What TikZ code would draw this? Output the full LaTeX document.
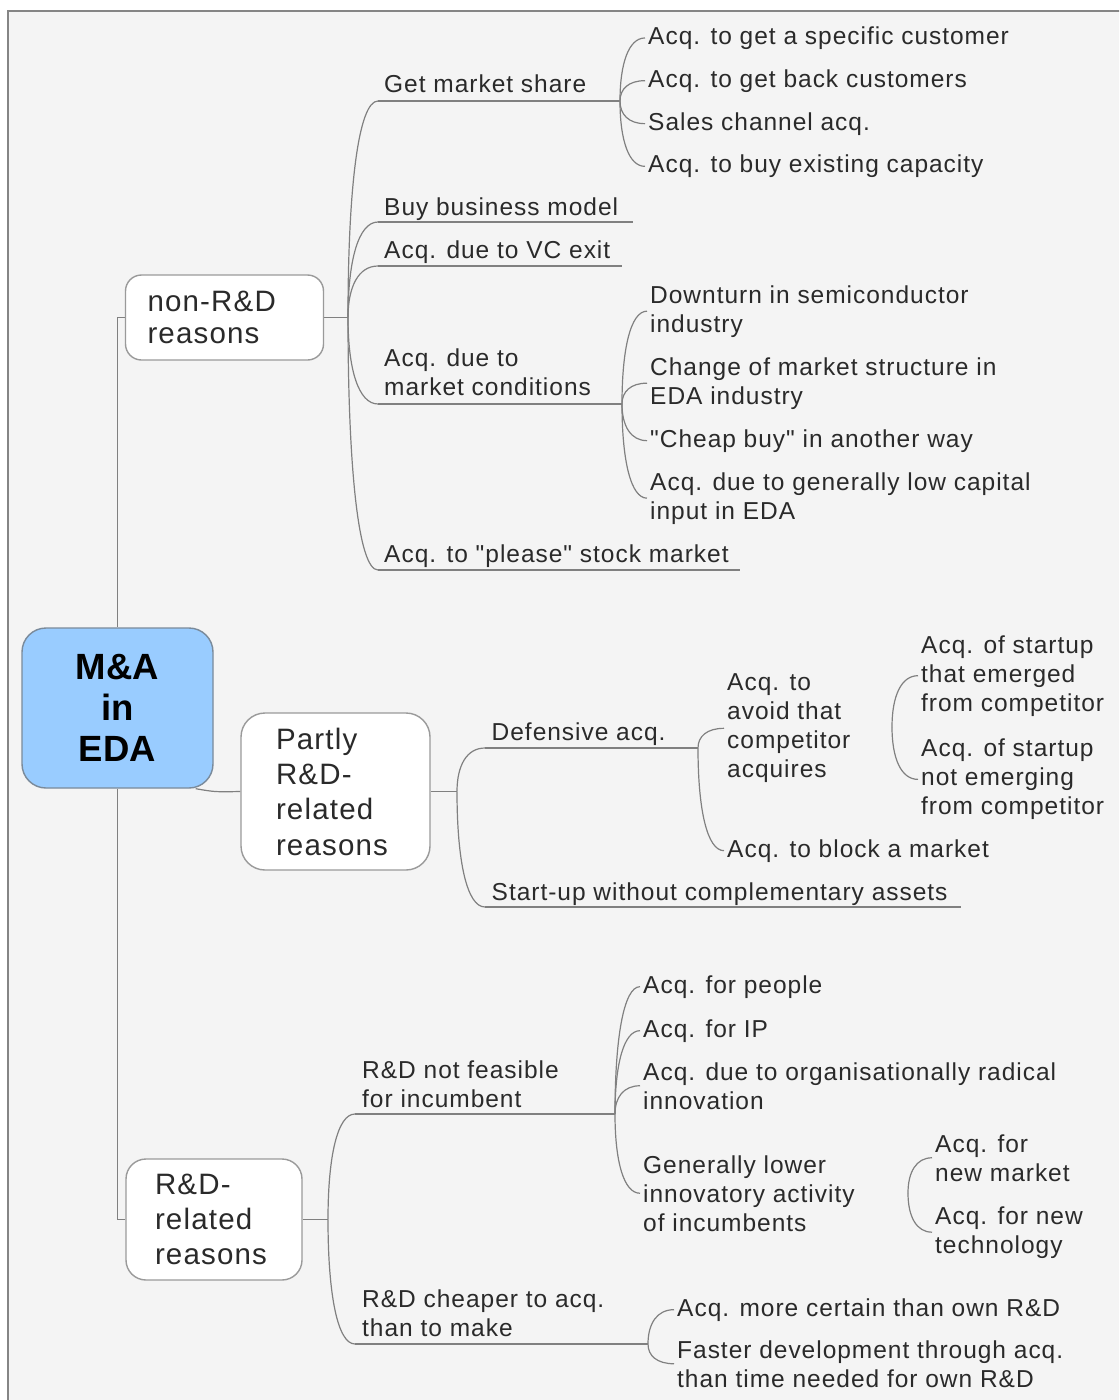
\documentclass[tikz,border=0pt]{standalone}
\usepackage{fontspec}
\setmainfont{Liberation Sans}
\newfontfamily\lsfont[LetterSpace=4]{Liberation Sans}
\newfontfamily\rootfont{Liberation Sans}
\usetikzlibrary{calc}
\pgfdeclarelayer{bg}
\pgfdeclarelayer{lines}
\pgfsetlayers{bg,lines,main}
\definecolor{bgc}{HTML}{F4F4F4}
\definecolor{framec}{HTML}{858585}
\definecolor{linec}{HTML}{808080}
\definecolor{boxc}{HTML}{9A9A9A}
\definecolor{rootborder}{HTML}{7A8A9A}
\definecolor{txt}{HTML}{2A2A2A}
\definecolor{rootfill}{HTML}{99CCFF}
\tikzset{
  fancurve/.style={to path={(\tikztostart) .. controls ($(\tikztostart)!0.6!(\tikztostart |- \tikztotarget)$) and ($(\tikztostart |- \tikztotarget)!0.35!(\tikztotarget)$) .. (\tikztotarget)}},
  conn/.style={draw=linec, line width=1.2pt},
  leaf/.style={anchor=base west, inner xsep=3pt, inner ysep=0pt, align=left, text=txt,
    font=\lsfont\fontsize{24.5pt}{29pt}\selectfont},
  catbox/.style={draw=boxc, line width=1.4pt, fill=white, rounded corners=16pt, align=left,
    text=txt, inner ysep=0pt},
  rootbox/.style={draw=rootborder, line width=1.4pt, fill=rootfill, rounded corners=24pt,
    align=center, text=black, minimum width=191pt, minimum height=160pt,
    font=\rootfont\bfseries\fontsize{36.5pt}{41pt}\selectfont}
}
\begin{document}
\begin{tikzpicture}[x=1pt,y=-1pt]
\useasboundingbox (0,0) rectangle (1119,1400);
\begin{pgfonlayer}{bg}
  \clip (0,0) rectangle (1119,1400);
  \fill[white] (0,0) rectangle (1119,1400);
  \draw[fill=bgc, draw=framec, line width=2pt] (8,11) rectangle (1140,1420);
\end{pgfonlayer}

% root and category boxes
\node[rootbox] (root) at (117.5,708) {M\&A\\in\\EDA};
\node[catbox, text width=154pt, inner xsep=22pt, minimum height=85pt,
  font=\lsfont\fontsize{29.5pt}{32.5pt}\selectfont] (nonrd) at (224.5,317.5) {non-R\&D\\reasons};
\node[catbox, rounded corners=24pt, text width=119pt, inner xsep=35pt, minimum height=157pt,
  font=\lsfont\fontsize{29.5pt}{35.3pt}\selectfont] (prd) at (335.5,791.5) {Partly\\R\&D-\\related\\reasons};
\node[catbox, rounded corners=20pt, text width=118pt, inner xsep=29pt, minimum height=121pt,
  font=\lsfont\fontsize{29.5pt}{35pt}\selectfont] (rd) at (214,1219.5) {R\&D-\\related\\reasons};

% junctions
\coordinate (J0) at (348,317.5);
\coordinate (J1) at (620,101);
\coordinate (J2) at (622,404);
\coordinate (J3) at (457,791.5);
\coordinate (J4) at (698,748);
\coordinate (J5) at (892,727);
\coordinate (J6) at (328,1219.5);
\coordinate (J7) at (615,1114);
\coordinate (J8) at (908,1193);
\coordinate (J9) at (648,1344);

% non-R&D branch (base = baseline of last line)
\node[leaf] (gms) at (381,92) {Get market share};
\node[leaf] (bbm) at (381,215) {Buy business model};
\node[leaf] (vc) at (381,258) {Acq. due to VC exit};
\node[leaf] (mc) at (381,395) {Acq. due to\\market conditions};
\node[leaf] (psm) at (381,562) {Acq. to "please" stock market};
\coordinate (gmsU) at (378,101);
\coordinate (bbmU) at (378,222);
\coordinate (bbmE) at (633,222);
\coordinate (vcU) at (378,266);
\coordinate (vcE) at (622,266);
\coordinate (mcU) at (378,404);
\coordinate (psmU) at (378,570);
\coordinate (psmE) at (740,570);

\node[leaf] (c11) at (645,44.3) {Acq. to get a specific customer};
\node[leaf] (c12) at (645,87) {Acq. to get back customers};
\node[leaf] (c13) at (645,130) {Sales channel acq.};
\node[leaf] (c14) at (645,172.7) {Acq. to buy existing capacity};

\node[leaf] (c21) at (647,332) {Downturn in semiconductor\\industry};
\node[leaf] (c22) at (647,404) {Change of market structure in\\EDA industry};
\node[leaf] (c23) at (647,447) {"Cheap buy" in another way};
\node[leaf] (c24) at (647,519) {Acq. due to generally low capital\\input in EDA};

% Partly R&D branch
\node[leaf] (def) at (488.5,740) {Defensive acq.};
\node[leaf] (sup) at (488.5,900) {Start-up without complementary assets};
\coordinate (defU) at (485,748);
\coordinate (supU) at (485,907);
\coordinate (supE) at (961,907);
\node[leaf] (avoid) at (724,777.7) {Acq. to\\avoid that\\competitor\\acquires};
\node[leaf] (block) at (724,857) {Acq. to block a market};
\node[leaf] (s1) at (918,711) {Acq. of startup\\that emerged\\from competitor};
\node[leaf] (s2) at (918,814.7) {Acq. of startup\\not emerging\\from competitor};

% R&D branch
\node[leaf] (nf) at (359,1107) {R\&D not feasible\\for incumbent};
\node[leaf] (ch) at (359,1336) {R\&D cheaper to acq.\\than to make};
\coordinate (nfU) at (355,1114);
\coordinate (chU) at (355,1344);
\node[leaf] (p1) at (640,993) {Acq. for people};
\node[leaf] (p2) at (640,1037) {Acq. for IP};
\node[leaf] (p3) at (640,1109) {Acq. due to organisationally radical\\innovation};
\node[leaf] (p4) at (640,1231) {Generally lower\\innovatory activity\\of incumbents};
\node[leaf] (q1) at (932,1181) {Acq. for\\new market};
\node[leaf] (q2) at (932,1253) {Acq. for new\\technology};
\node[leaf] (r1) at (674,1316) {Acq. more certain than own R\&D};
\node[leaf] (r2) at (674,1387) {Faster development through acq.\\than time needed for own R\&D};

\coordinate (rootSE) at ($(root.south east)+(-18,0)$);

\begin{pgfonlayer}{lines}
  \draw[conn] (nonrd.west) -| (root.north);
  \draw[conn] (rd.west) -| (root.south);
  \draw[conn] (rootSE) .. controls (215,792) .. (prd.west);
  % non-R&D
  \draw[conn] (nonrd.east) -- (J0);
  \foreach \t in {gmsU,bbmU,vcU,mcU,psmU} \draw[conn] (J0) to[fancurve] (\t);
  \draw[conn] (gmsU) -- (J1);
  \draw[conn] (bbmU) -- (bbmE);
  \draw[conn] (vcU) -- (vcE);
  \draw[conn] (mcU) -- (J2);
  \draw[conn] (psmU) -- (psmE);
  \foreach \t in {c11,c12,c13,c14} \draw[conn] (J1) to[fancurve] (\t.west);
  \foreach \t in {c21,c22,c23,c24} \draw[conn] (J2) to[fancurve] (\t.west);
  % Partly
  \draw[conn] (prd.east) -- (J3);
  \foreach \t in {defU,supU} \draw[conn] (J3) to[fancurve] (\t);
  \draw[conn] (defU) -- (J4);
  \draw[conn] (supU) -- (supE);
  \foreach \t in {avoid,block} \draw[conn] (J4) to[fancurve] (\t.west);
  \foreach \t in {s1,s2} \draw[conn] (J5) to[fancurve] (\t.west);
  % R&D
  \draw[conn] (rd.east) -- (J6);
  \foreach \t in {nfU,chU} \draw[conn] (J6) to[fancurve] (\t);
  \draw[conn] (nfU) -- (J7);
  \draw[conn] (chU) -- (J9);
  \foreach \t in {p1,p2,p3,p4} \draw[conn] (J7) to[fancurve] (\t.west);
  \foreach \t in {q1,q2} \draw[conn] (J8) to[fancurve] (\t.west);
  \foreach \t in {r1,r2} \draw[conn] (J9) to[fancurve] (\t.west);
\end{pgfonlayer}
\end{tikzpicture}
\end{document}
